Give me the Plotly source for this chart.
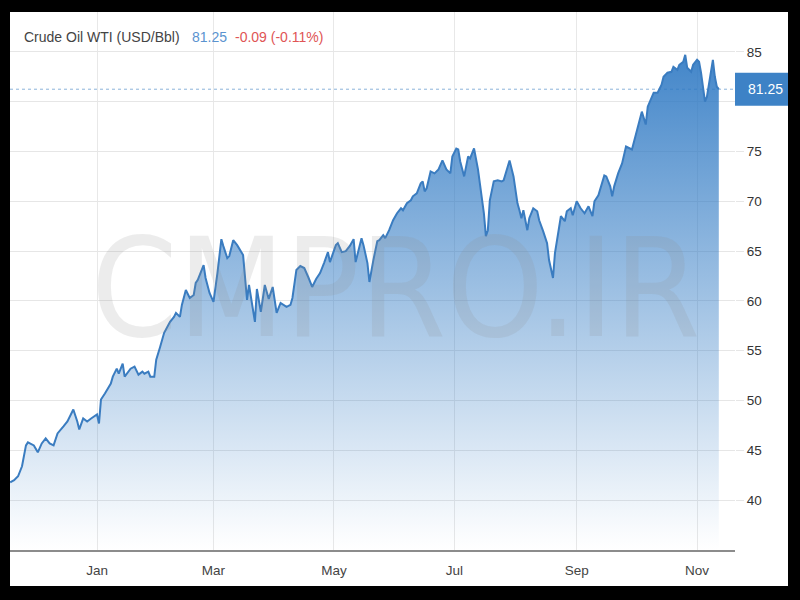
import plotly.graph_objects as go

# ---------------- data ----------------
dates = [
    "2020-11-18", "2020-11-20", "2020-11-22", "2020-11-24", "2020-11-26", "2020-11-27", "2020-11-30",
    "2020-12-02", "2020-12-04", "2020-12-06", "2020-12-08", "2020-12-10", "2020-12-12", "2020-12-13", "2020-12-15",
    "2020-12-17", "2020-12-20", "2020-12-22", "2020-12-23", "2020-12-25", "2020-12-27", "2020-12-29",
    "2021-01-01", "2021-01-02", "2021-01-03", "2021-01-05", "2021-01-08", "2021-01-09", "2021-01-11", "2021-01-12",
    "2021-01-14", "2021-01-15", "2021-01-18", "2021-01-20", "2021-01-22", "2021-01-24", "2021-01-25", "2021-01-27",
    "2021-01-28", "2021-01-30", "2021-01-31",
    "2021-02-02", "2021-02-04", "2021-02-07", "2021-02-09", "2021-02-10", "2021-02-12", "2021-02-13", "2021-02-15",
    "2021-02-17", "2021-02-19", "2021-02-20", "2021-02-21", "2021-02-24", "2021-02-25", "2021-02-27",
    "2021-03-01", "2021-03-03", "2021-03-05", "2021-03-06", "2021-03-08", "2021-03-09", "2021-03-11", "2021-03-13",
    "2021-03-15", "2021-03-16", "2021-03-18", "2021-03-19", "2021-03-22", "2021-03-23", "2021-03-25", "2021-03-27",
    "2021-03-29", "2021-03-31",
    "2021-04-02", "2021-04-04", "2021-04-07", "2021-04-09", "2021-04-10", "2021-04-12", "2021-04-14", "2021-04-16",
    "2021-04-18", "2021-04-20", "2021-04-22", "2021-04-24", "2021-04-26", "2021-04-28", "2021-04-29",
    "2021-05-02", "2021-05-03", "2021-05-05", "2021-05-07", "2021-05-09", "2021-05-11", "2021-05-12", "2021-05-15",
    "2021-05-16", "2021-05-18", "2021-05-19", "2021-05-21", "2021-05-23", "2021-05-24", "2021-05-26", "2021-05-27",
    "2021-05-29", "2021-05-31",
    "2021-06-02", "2021-06-04", "2021-06-05", "2021-06-07", "2021-06-09", "2021-06-10", "2021-06-12", "2021-06-14",
    "2021-06-15", "2021-06-16", "2021-06-17", "2021-06-19", "2021-06-21", "2021-06-23", "2021-06-25", "2021-06-27",
    "2021-06-29", "2021-06-30",
    "2021-07-02", "2021-07-03", "2021-07-04", "2021-07-06", "2021-07-08", "2021-07-09", "2021-07-11", "2021-07-13",
    "2021-07-14", "2021-07-16", "2021-07-17", "2021-07-18", "2021-07-19", "2021-07-21", "2021-07-23", "2021-07-25",
    "2021-07-26", "2021-07-28", "2021-07-29", "2021-07-31",
    "2021-08-01", "2021-08-02", "2021-08-03", "2021-08-04", "2021-08-05", "2021-08-07", "2021-08-08", "2021-08-10",
    "2021-08-12", "2021-08-13", "2021-08-15", "2021-08-17", "2021-08-18", "2021-08-20", "2021-08-21", "2021-08-23",
    "2021-08-24", "2021-08-26", "2021-08-27", "2021-08-29", "2021-08-30",
    "2021-09-01", "2021-09-03", "2021-09-05", "2021-09-07", "2021-09-09", "2021-09-10", "2021-09-12", "2021-09-15",
    "2021-09-16", "2021-09-18", "2021-09-19", "2021-09-20", "2021-09-22", "2021-09-24", "2021-09-26", "2021-09-28",
    "2021-09-29",
    "2021-10-01", "2021-10-04", "2021-10-06", "2021-10-07", "2021-10-10", "2021-10-12", "2021-10-14", "2021-10-15",
    "2021-10-17", "2021-10-19", "2021-10-20", "2021-10-22", "2021-10-23", "2021-10-25", "2021-10-26", "2021-10-27",
    "2021-10-29", "2021-10-30",
    "2021-11-01", "2021-11-02", "2021-11-03", "2021-11-05", "2021-11-06", "2021-11-07", "2021-11-09", "2021-11-10",
    "2021-11-11", "2021-11-12",
]

prices = [
    41.8, 42.0, 42.4, 43.4, 45.5, 45.8, 45.5,
    44.8, 45.7, 46.2, 45.7, 45.5, 46.7, 46.9, 47.4,
    47.9, 49.1, 47.9, 47.1, 48.2, 47.9, 48.2,
    48.6, 47.7, 50.1, 50.7, 51.7, 52.4, 53.2, 52.7,
    53.7, 52.4, 53.2, 53.4, 52.6, 52.9, 52.7, 52.9,
    52.4, 52.4, 54.1,
    55.4, 56.8, 57.9, 58.4, 58.8, 58.4, 59.6, 61.1,
    60.3, 60.6, 61.8, 62.1, 63.6, 62.3, 60.8,
    59.9, 62.8, 66.2, 65.5, 64.3, 64.5, 66.1, 65.6,
    64.9, 64.6, 60.1, 61.6, 57.9, 61.2, 58.9, 61.6,
    60.2, 61.4,
    58.8, 59.8, 59.4, 59.6, 60.3, 63.1, 63.5, 63.3,
    62.4, 61.4, 62.2, 62.8, 63.8, 64.9, 63.9,
    65.6, 65.8, 64.9, 65.0, 65.5, 66.2, 63.9, 66.3,
    65.6, 63.8, 61.9, 64.1, 66.0, 66.1, 66.6, 66.3,
    67.1, 68.1,
    68.8, 69.3, 69.1, 69.8, 70.1, 70.5, 70.8, 71.8,
    72.0, 71.0, 71.3, 73.0, 72.8, 73.2, 74.1, 73.2,
    72.8, 74.5,
    75.3, 75.2, 74.0, 72.5, 74.5, 74.3, 75.3, 73.2,
    71.8, 68.8, 66.5, 67.1, 70.1, 72.0, 72.1, 72.0,
    72.1, 73.5, 74.1, 72.5,
    71.1, 69.8, 69.1, 68.3, 69.1, 67.1, 68.3, 69.3,
    69.0, 68.1, 67.0, 65.8, 64.1, 62.3, 64.8, 67.6,
    68.5, 68.0, 69.0, 69.3, 68.6,
    70.0, 69.3, 68.8, 69.5, 68.5, 70.0, 70.6, 72.6,
    72.5, 71.5, 70.5, 71.5, 72.8, 73.8, 75.5, 75.3,
    75.2,
    76.7, 79.0, 77.7, 79.5, 80.9, 80.9, 81.7, 82.5,
    82.9, 83.0, 83.5, 83.2, 83.7, 84.0, 84.7, 83.4,
    83.0, 83.7,
    84.2, 84.0, 82.9, 80.0, 80.5, 81.7, 84.2, 82.5,
    81.5, 81.25,
]

title_name = "Crude Oil WTI (USD/Bbl)"
last_price = 81.25
change_abs = -0.09
change_pct = -0.11

x_tick_vals = ["2021-01-01", "2021-03-01", "2021-05-01", "2021-07-01", "2021-09-01", "2021-11-01"]
x_tick_text = ["Jan", "Mar", "May", "Jul", "Sep", "Nov"]
y_tick_vals = [40, 45, 50, 55, 60, 65, 70, 75, 80, 85]
y_tick_text = ["40", "45", "50", "55", "60", "65", "70", "75", "", "85"]

watermark = "CMPRO.IR"

assert len(dates) == len(prices)

# ---------------- figure ----------------
LINE = "#3a7cc0"
FONT = "Liberation Sans, Arial, sans-serif"

fig = go.Figure()
fig.add_trace(go.Scatter(
    x=dates, y=prices, mode="lines",
    line=dict(color=LINE, width=2),
    fill="tozeroy",
    fillgradient=dict(
        type="vertical",
        start=35, stop=85,
        colorscale=[[0.0, "rgba(45,120,195,0.0)"],
                     [0.04, "rgba(45,120,195,0.03)"],
                     [1.0, "rgba(45,120,195,0.90)"]],
    ),
    hoverinfo="x+y",
    showlegend=False,
))

shapes = [
    # white card on black frame
    dict(type="rect", xref="paper", yref="paper", x0=0, x1=1.0731, y0=-0.0669, y1=1.0,
         fillcolor="white", line=dict(width=0), layer="below"),
    # dotted line at last price
    dict(type="line", xref="paper", yref="y", x0=0, x1=1.0, y0=prices[-1], y1=prices[-1],
         line=dict(color="rgba(110,160,210,0.8)", width=1, dash="dot"), layer="below"),
    # last price box
    dict(type="rect", xref="paper", yref="y", x0=1.0, x1=1.0731,
         y0=prices[-1] - 1.65, y1=prices[-1] + 1.65,
         fillcolor="#3d82c6", line=dict(width=0), layer="above"),
]

chg_color = "#e05555" if change_abs < 0 else "#3a9a3a"
annotations = [
    dict(text=watermark, xref="paper", yref="paper", x=0.5324, y=0.486,
         xanchor="center", yanchor="middle", showarrow=False,
         font=dict(family="Liberation Sans Narrow, DejaVu Sans Condensed, Liberation Sans, sans-serif",
                   size=138, color="rgba(140,140,140,0.17)")),
    dict(text=title_name, xref="paper", yref="paper", x=(22 - 10) / 725, y=0.9535,
         xanchor="left", yanchor="middle", showarrow=False,
         font=dict(family=FONT, size=14, color="#444444")),
    dict(text=f"{last_price:.2f}", xref="paper", yref="paper", x=(190 - 10) / 725, y=0.9535,
         xanchor="left", yanchor="middle", showarrow=False,
         font=dict(family=FONT, size=14, color="#5a93cf")),
    dict(text=f"{change_abs:.2f} ({change_pct:.2f}%)", xref="paper", yref="paper", x=(233 - 10) / 725, y=0.9535,
         xanchor="left", yanchor="middle", showarrow=False,
         font=dict(family=FONT, size=14, color=chg_color)),
    dict(text=f"{prices[-1]:.2f}", xref="paper", yref="y", x=1.0414, y=prices[-1],
         xanchor="center", yanchor="middle", showarrow=False,
         font=dict(family=FONT, size=14, color="white")),
]

fig.update_layout(
    width=800, height=600,
    margin=dict(l=10, r=65, t=12, b=50),
    paper_bgcolor="black",
    plot_bgcolor="white",
    font=dict(family=FONT, size=13, color="#444444"),
    shapes=shapes,
    annotations=annotations,
    xaxis=dict(
        type="date",
        range=["2020-11-17 22:00", "2021-11-20 05:00"],
        tickvals=x_tick_vals, ticktext=x_tick_text,
        showgrid=True, gridcolor="#e8e8e8", gridwidth=1,
        showline=True, linecolor="#8c8c8c", linewidth=2,
        ticks="", zeroline=False,
        ticklabelstandoff=7,
        tickfont=dict(family=FONT, size=13.5, color="#444444"),
    ),
    yaxis=dict(
        side="right",
        range=[35, 89],
        tickvals=y_tick_vals, ticktext=y_tick_text,
        showgrid=True, gridcolor="#e6e6e6", gridwidth=1,
        ticks="outside", ticklen=8, tickcolor="#e6e6e6",
        showline=False, zeroline=False,
        tickfont=dict(family=FONT, size=13.5, color="#333333"),
    ),
)

fig.write_html(
    "out.html",
    config={"displayModeBar": False},
    post_script="document.body.style.margin='0';document.body.style.background='black';",
)
